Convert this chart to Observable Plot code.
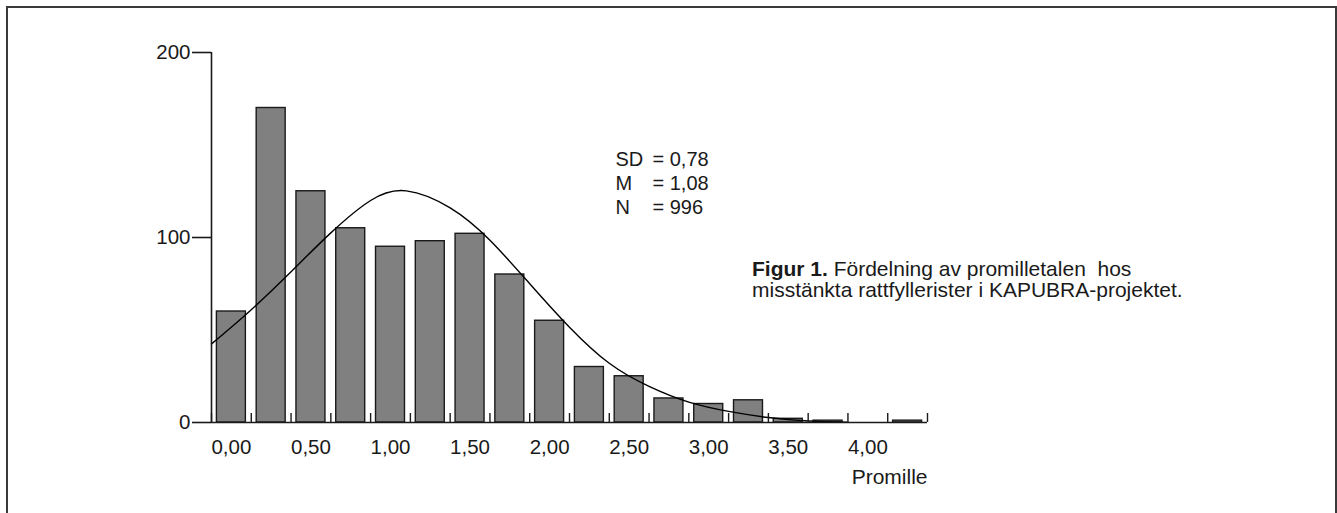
<!DOCTYPE html>
<html>
<head>
<meta charset="utf-8">
<script src="https://cdn.jsdelivr.net/npm/d3@7"></script>
<script src="https://cdn.jsdelivr.net/npm/@observablehq/plot@0.6"></script>
<style>
  html, body { margin: 0; padding: 0; background: #fff; overflow: hidden; }
  #wrap { position: relative; width: 1337px; height: 513px; font-family: "Liberation Sans", Arial, sans-serif; color: #1a1a1a; }
  #frame { position: absolute; left: 6px; top: 6px; width: 1331px; height: 600px; box-sizing: border-box; border: 2px solid #3a3a3a; }
  #chart { position: absolute; left: 0; top: 0; }
  #caption { position: absolute; left: 752px; top: 258px; font-size: 21px; line-height: 21px; white-space: pre; }
</style>
</head>
<body>
<div id="wrap">
  <div id="frame"></div>
  <div id="chart"></div>
  <div id="caption"></div>
</div>
<script>
// ---- data ----
const promille = [0, 0.25, 0.5, 0.75, 1.0, 1.25, 1.5, 1.75, 2.0, 2.25, 2.5, 2.75, 3.0, 3.25, 3.5, 3.75, 4.0, 4.25];
const antal    = [60, 170, 125, 105, 95, 98, 102, 80, 55, 30, 25, 13, 10, 12, 2, 1, 0, 1];
const binWidth = 0.25;

const tickValues = [0, 0.5, 1.0, 1.5, 2.0, 2.5, 3.0, 3.5, 4.0];
const tickLabels = ["0,00", "0,50", "1,00", "1,50", "2,00", "2,50", "3,00", "3,50", "4,00"];
const yTicks = [0, 100, 200];

// normal curve
const curveX = [-0.125, 0.125, 0.375, 0.625, 0.875, 1.1, 1.375, 1.625, 1.875, 2.125, 2.375, 2.625, 2.875, 3.125, 3.375, 3.625, 3.875];
const curveY = [42.5, 61, 81.5, 102.5, 120, 125.2, 116, 98.5, 75, 51.5, 32, 19.5, 11, 6, 2.7, 0.8, 0.2];

const statNames  = ["SD", "M", "N"];
const statValues = ["= 0,78", "= 1,08", "= 996"];

const captionBold = "Figur 1.";
const captionLine1 = " Fördelning av promilletalen  hos";
const captionLine2 = "misstänkta rattfyllerister i KAPUBRA-projektet.";
const xLabel = "Promille";

// ---- derived tables ----
const bars = promille.map((p, i) => ({p, n: antal[i]}));
const curve = curveX.map((x, i) => ({x, y: curveY[i]}));
const boundaries = promille.map(p => p - binWidth / 2).concat([promille[promille.length - 1] + binWidth / 2]);
const xMin = boundaries[0], xMax = boundaries[boundaries.length - 1];
const labelMap = new Map(tickValues.map((v, i) => [v, tickLabels[i]]));

const ink = "#1a1a1a";

const chart = Plot.plot({
  width: 1337,
  height: 513,
  marginLeft: 211,
  marginRight: 410,
  marginTop: 52,
  marginBottom: 91,
  x: {domain: [xMin, xMax]},
  y: {domain: [0, 200]},
  style: {fontFamily: "'Liberation Sans', Arial, sans-serif", fontSize: "20px", background: "transparent", color: ink},
  marks: [
    Plot.rectY(bars, {
      x1: d => d.p - binWidth / 2, x2: d => d.p + binWidth / 2, y: "n",
      insetLeft: 5.4, insetRight: 5.4,
      fill: "#808080", stroke: ink, strokeWidth: 1.4
    }),
    Plot.line(curve, {x: "x", y: "y", curve: "natural", stroke: "#000", strokeWidth: 1.4}),
    Plot.ruleY([0], {x1: xMin, x2: xMax, stroke: ink, strokeWidth: 1.6}),
    Plot.ruleX([xMin], {y1: 0, y2: 200, stroke: ink, strokeWidth: 1.6}),
    Plot.axisY({ticks: yTicks, tickSize: 19, tickPadding: 2, fontSize: 20.5, label: null, stroke: ink, strokeWidth: 1.6, tickFormat: d => String(d)}),
    Plot.axisX({ticks: boundaries, tickSize: -9, tickFormat: () => "", label: null, stroke: ink, strokeWidth: 1.4}),
    Plot.axisX({ticks: tickValues, tickSize: 0, tickPadding: 17, fontSize: 20.5, label: null, tickFormat: d => labelMap.get(d)}),
    Plot.text([xLabel], {frameAnchor: "bottom-right", text: d => d, textAnchor: "end", dy: 61, fontSize: 21, fill: ink}),
    Plot.text([statNames.join("\n")], {frameAnchor: "top-left", text: d => d, textAnchor: "start", lineAnchor: "top", lineHeight: 1.2, dx: 404, dy: 96, fontSize: 20, fill: ink}),
    Plot.text([statValues.join("\n")], {frameAnchor: "top-left", text: d => d, textAnchor: "start", lineAnchor: "top", lineHeight: 1.2, dx: 441, dy: 96, fontSize: 20, fill: ink})
  ]
});
document.getElementById("chart").appendChild(chart);

const cap = document.getElementById("caption");
const b = document.createElement("b");
b.textContent = captionBold;
cap.appendChild(b);
cap.appendChild(document.createTextNode(captionLine1));
cap.appendChild(document.createElement("br"));
cap.appendChild(document.createTextNode(captionLine2));
</script>
</body>
</html>
